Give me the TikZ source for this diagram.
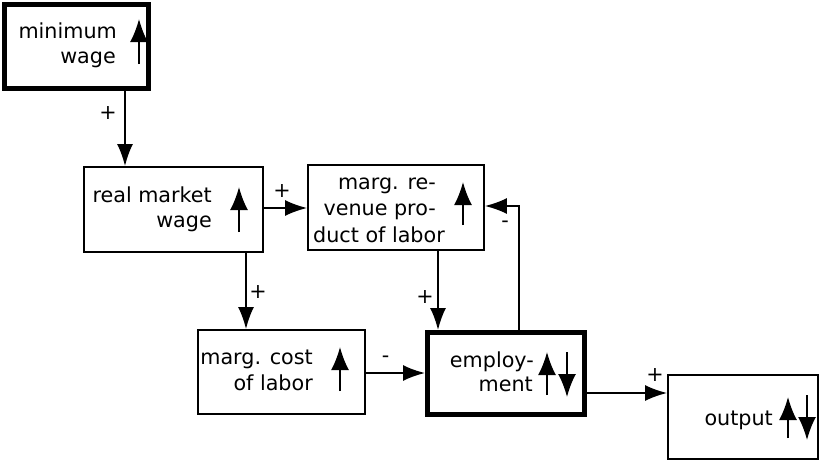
\documentclass[tikz,border=0pt]{standalone}
\usepackage{fontspec}
\setmainfont{DejaVu Sans}
\usetikzlibrary{arrows.meta}
\begin{document}
\begin{tikzpicture}[x=1pt,y=-1pt,
  box/.style={draw, line width=1.8pt, rectangle, inner sep=0pt},
  thickbox/.style={box, line width=5pt},
  conn/.style={line width=1.8pt, -{Latex[length=22pt,width=16pt]}},
  updown/.style={line width=1.8pt, -{Latex[length=23pt,width=18pt]}},
  lbl/.style={inner sep=0pt, anchor=base east, font=\fontsize{20.7}{25}\selectfont},
  sign/.style={inner sep=0pt, font=\fontsize{20.7}{25}\selectfont}]
\useasboundingbox (0,0) rectangle (821,461);
% boxes
\node[thickbox, minimum width=144pt, minimum height=84pt] (mw) at (76,46) {};
\node[box, minimum width=179pt, minimum height=85pt] (rmw) at (173.5,209.5) {};
\node[box, minimum width=176pt, minimum height=85pt] (mrp) at (396,207.5) {};
\node[box, minimum width=167pt, minimum height=84pt] (mcl) at (281.5,372) {};
\node[thickbox, minimum width=157pt, minimum height=82pt] (emp) at (506,373.5) {};
\node[box, minimum width=150pt, minimum height=84pt] (out) at (743,417) {};
% texts
\node[lbl] (mw1) at (117,38) {minimum};
\node[lbl] (mw2) at (116,63) {wage};
\node[lbl] (rmw1) at (212,202) {real market};
\node[lbl] (rmw2) at (212,227) {wage};
\node[lbl] (mrp1) at (436,189) {marg. re-};
\node[lbl] (mrp2) at (436,215) {venue pro-};
\node[lbl] (mrp3) at (445,242) {duct of labor};
\node[lbl] (mcl1) at (313,364) {marg. cost};
\node[lbl] (mcl2) at (313,390) {of labor};
\node[lbl] (emp1) at (534,367) {employ-};
\node[lbl] (emp2) at (533,391) {ment};
\node[lbl] (out1) at (773,425) {output};
% up/down arrows in boxes
\draw[updown] (139,64) -- (139,19);
\draw[updown] (239,232) -- (239,187);
\draw[updown] (463,225) -- (463,182);
\draw[updown] (340,391) -- (340,347);
\draw[updown] (547,395) -- (547,352);
\draw[updown] (567,352) -- (567,397);
\draw[updown] (788,438) -- (788,397);
\draw[updown] (807,395) -- (807,440);
% helper coordinates
\coordinate (x125) at (125,0);
\coordinate (x246) at (246,0);
\coordinate (x438) at (438,0);
\coordinate (x519) at (519,0);
\coordinate (y208) at (0,208);
\coordinate (y373) at (0,373);
\coordinate (y206) at (0,206);
\coordinate (y393) at (0,393);
% connectors
\draw[conn] (mw.south -| x125) -- (rmw.north -| x125);
\draw[conn] (rmw.east |- y208) -- (mrp.west |- y208);
\draw[conn] (rmw.south -| x246) -- (mcl.north -| x246);
\draw[conn] (mrp.south -| x438) -- (emp.north -| x438);
\draw[conn] (mcl.east |- y373) -- (emp.west |- y373);
\draw[conn] (emp.north -| x519) |- (mrp.east |- y206);
\draw[conn] (emp.east |- y393) -- (out.west |- y393);
% signs
\node[sign] (s1) at (108,113) {+};
\node[sign] (s2) at (282,191) {+};
\node[sign] (s3) at (258,292) {+};
\node[sign] (s4) at (425,297) {+};
\node[sign, anchor=base] (s5) at (385.5,362.6) {-};
\node[sign, anchor=base] (s6) at (505,227.6) {-};
\node[sign] (s7) at (655,375) {+};
\end{tikzpicture}
\end{document}
